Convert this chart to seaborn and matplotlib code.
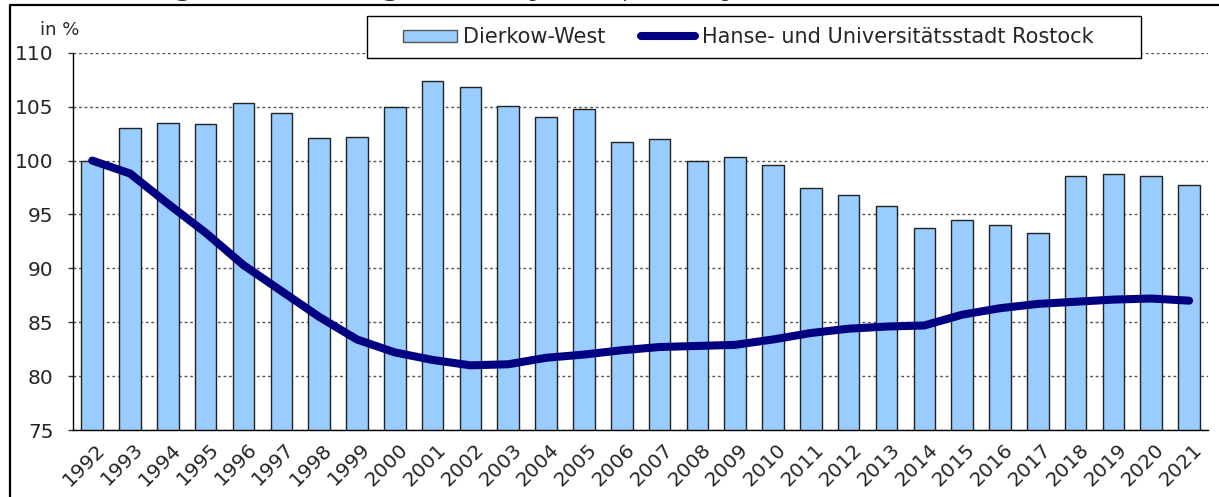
"""Bevölkerungsentwicklung Dierkow-West vs. Rostock (1992 = 100 %), Balken + Linie."""

import matplotlib

matplotlib.use("Agg")
import matplotlib.pyplot as plt
import matplotlib.transforms as mtransforms
import numpy as np
import seaborn as sns
from matplotlib.lines import Line2D
from matplotlib.patches import Patch, Rectangle

# Daten
years = [str(y) for y in range(1992, 2022)]
dierkow_west = [100.0, 103.0, 103.5, 103.4, 105.3, 104.4, 102.1, 102.2, 105.0, 107.4,
                106.8, 105.1, 104.0, 104.8, 101.7, 102.0, 100.0, 100.3, 99.6, 97.5,
                96.8, 95.8, 93.7, 94.5, 94.0, 93.3, 98.6, 98.8, 98.6, 97.7]
rostock = [100.0, 98.8, 96.0, 93.3, 90.3, 87.9, 85.5, 83.4, 82.2, 81.5,
           81.0, 81.1, 81.7, 82.0, 82.4, 82.7, 82.8, 82.9, 83.4, 84.0,
           84.4, 84.6, 84.7, 85.7, 86.3, 86.7, 86.9, 87.1, 87.2, 87.0]
y_ticks = [75, 80, 85, 90, 95, 100, 105, 110]

label_bars = "Dierkow-West"
label_line = "Hanse- und Universitätsstadt Rostock"
title_bold = "Bevölkerungsentwicklung"
title_rest = "(Bevölkerung mit Hauptwohnung, 1992 = 100 %)"

BAR_COLOR = "#99CCFF"
LINE_COLOR = "#000080"

sns.set_style("white")
plt.rcParams["font.family"] = ["DejaVu Sans"]

W, H = 1219, 497
fig = plt.figure(figsize=(W / 100, H / 100), dpi=100)
ax = fig.add_axes([73.3 / W, 67 / H, (1208 - 73.3) / W, (430 - 52.8) / H])

sns.barplot(x=years, y=dierkow_west, color=BAR_COLOR, saturation=1, width=0.57,
            edgecolor="#222222", linewidth=1.0, ax=ax, zorder=2)
sns.lineplot(x=np.arange(len(years)), y=rostock, color=LINE_COLOR, linewidth=5.8,
             ax=ax, zorder=3, solid_capstyle="round", solid_joinstyle="round")

ax.set_ylim(75, 110)
ax.set_xlim(-0.5, len(years) - 0.5)
ax.set_yticks(y_ticks)
ax.yaxis.grid(True, linestyle=(0, (2, 2)), color="#555555", linewidth=1.0)
ax.set_axisbelow(True)
for side in ("top", "right"):
    ax.spines[side].set_visible(False)
for side in ("left", "bottom"):
    ax.spines[side].set_color("black")
    ax.spines[side].set_linewidth(1.0)

# Striche zwischen den Balken, Beschriftung in der Mitte
ax.set_xticks(np.arange(len(years) + 1) - 0.5)
ax.set_xticklabels([])
ax.set_xticks(np.arange(len(years)), minor=True)
ax.set_xticklabels(years, minor=True, rotation=45, ha="right", va="top",
                   rotation_mode="anchor", fontsize=14.5)
ax.tick_params(axis="x", which="major", direction="inout", length=9.5, width=1.0,
               color="#333333")
ax.tick_params(axis="x", which="minor", length=0, pad=7)
ax.tick_params(axis="y", which="major", direction="out", length=3.6, width=1.0,
               color="#333333", labelsize=14.5, left=True)
ax.yaxis.set_tick_params(pad=10.5)
shift = mtransforms.ScaledTranslation(0.035, 0, fig.dpi_scale_trans)
for lab in ax.get_xticklabels(minor=True):
    lab.set_transform(lab.get_transform() + shift)
ax.set_xlabel("")
ax.set_ylabel("")

# Einheit
fig.text(40 / W, 1 - 35 / H, "in %", fontsize=13, va="baseline", ha="left")

# abgeschnittener Titel oben
fig.text(-2 / W, 1 + 5 / H, title_bold, fontsize=20, fontweight="bold",
         va="baseline", ha="left")
fig.text(410 / W, 1 + 2.5 / H, title_rest, fontsize=14, va="baseline", ha="left")

# Rahmen
fig.add_artist(Line2D([10 / W, 10 / W, 1.0], [0.0, 1 - 5 / H, 1 - 5 / H],
                      transform=fig.transFigure, color="black", linewidth=1.6))

# Legende mit eigenem Kasten
fig.add_artist(Rectangle((367 / W, 1 - 58 / H), (1141 - 367) / W, 42 / H,
                         transform=fig.transFigure, facecolor="white",
                         edgecolor="black", linewidth=1.0, zorder=4))
handles = [
    Patch(facecolor=BAR_COLOR, edgecolor="#555555", linewidth=1.0, label=label_bars),
    Line2D([], [], color=LINE_COLOR, linewidth=5.8, solid_capstyle="round",
           label=label_line),
]
fig.legend(handles=handles, loc="center left", bbox_to_anchor=(403 / W, 1 - 37 / H),
           bbox_transform=fig.transFigure, ncol=2, frameon=False, fontsize=15,
           borderpad=0, borderaxespad=0, handlelength=2.6, handleheight=0.5,
           handletextpad=0.3, columnspacing=1.7).set_zorder(5)

fig.savefig("out.png", dpi=100)
plt.close(fig)
